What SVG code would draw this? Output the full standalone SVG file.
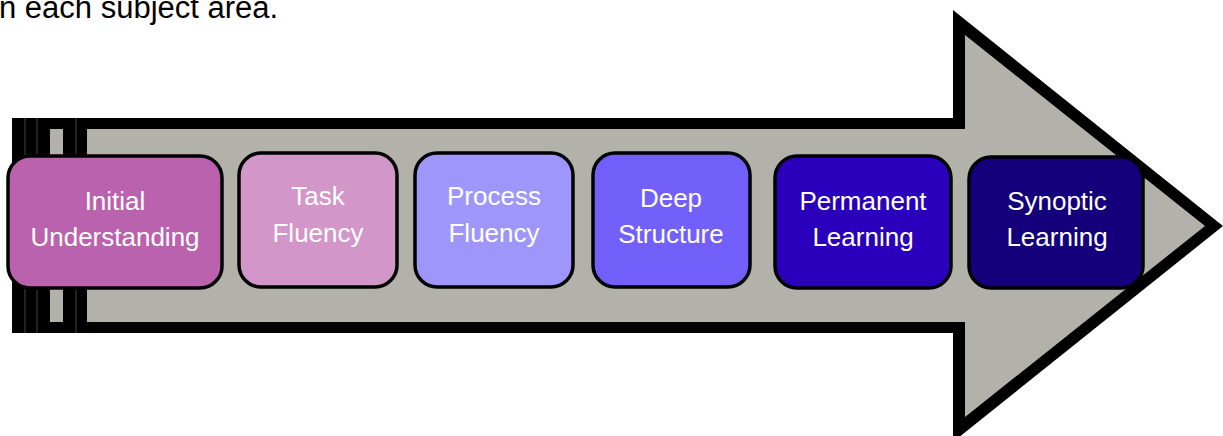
<svg xmlns="http://www.w3.org/2000/svg" width="1223" height="436" viewBox="0 0 1223 436">
  <style>
    .node rect { stroke: #000; stroke-width: 3.5; }
    .node text { fill: #fff; font-family: "Liberation Sans", Arial, sans-serif; font-size: 26px; text-anchor: middle; }
    .caption { fill: #000; font-family: "Liberation Sans", Arial, sans-serif; font-size: 31px; }
  </style>
  <rect width="1223" height="436" fill="#fff"/>
  <text class="caption" x="-1" y="18">n each subject area.</text>

  <!-- big arrow -->
  <g id="arrow">
    <polygon points="12,118 953,118 953,10 1223,226 953,442 953,333 12,333" fill="#000"/>
    <polygon points="87,129 965,129 965,35 1205,226 965,417 965,322 87,322" fill="#B2B1AA"/>
    <rect x="50" y="129" width="13" height="193" fill="#B2B1AA"/>
    <g stroke="#444" stroke-width="1">
      <line x1="25" y1="118" x2="25" y2="333"/>
      <line x1="37" y1="118" x2="37" y2="333"/>
      <line x1="76" y1="118" x2="76" y2="333"/>
    </g>
  </g>

  <g id="connectors"></g>

  <g id="initial-understanding" class="node">
    <rect x="8" y="156" width="214" height="132" rx="22" fill="#BB62AE"/>
    <text x="115" y="210">Initial</text>
    <text x="115" y="246">Understanding</text>
  </g>
  <g id="task-fluency" class="node">
    <rect x="239" y="153" width="158" height="134" rx="22" fill="#D396C8"/>
    <text x="318" y="205">Task</text>
    <text x="318" y="242">Fluency</text>
  </g>
  <g id="process-fluency" class="node">
    <rect x="415" y="153" width="158" height="134" rx="22" fill="#9E96FA"/>
    <text x="494" y="205">Process</text>
    <text x="494" y="242">Fluency</text>
  </g>
  <g id="deep-structure" class="node">
    <rect x="593" y="153" width="157" height="134" rx="22" fill="#735FFA"/>
    <text x="671" y="207">Deep</text>
    <text x="671" y="243">Structure</text>
  </g>
  <g id="permanent-learning" class="node">
    <rect x="775" y="156" width="176" height="132" rx="22" fill="#2A00BC"/>
    <text x="863" y="210">Permanent</text>
    <text x="863" y="246">Learning</text>
  </g>
  <g id="synoptic-learning" class="node">
    <rect x="969" y="157" width="174" height="131" rx="22" fill="#14007A"/>
    <text x="1057" y="210">Synoptic</text>
    <text x="1057" y="246">Learning</text>
  </g>
</svg>
